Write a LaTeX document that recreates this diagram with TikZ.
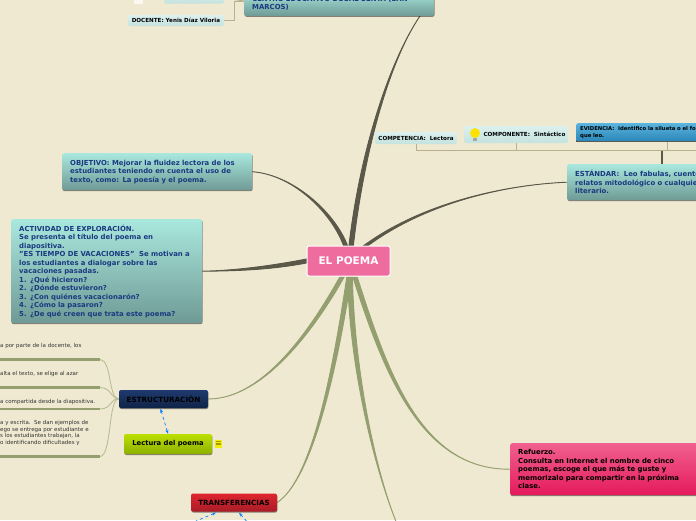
\documentclass[tikz,border=0pt]{standalone}
\usepackage{fontspec}
\usepackage{xcolor}
\usetikzlibrary{arrows.meta, calc, shadows}
\setmainfont{DejaVu Sans}
\definecolor{paper}{HTML}{F0E9D2}
\definecolor{darkbranch}{HTML}{5A5848}
\definecolor{greenbranch}{HTML}{939F6E}
\definecolor{tanline}{HTML}{B9B08F}
\definecolor{navytext}{HTML}{1A3A80}
\definecolor{teal1}{HTML}{A9E8DE}
\definecolor{teal2}{HTML}{6F9A95}
\definecolor{pale1}{HTML}{DDF1EE}
\definecolor{pale2}{HTML}{C3E2DE}
\definecolor{rosa}{HTML}{EE6C9E}
\definecolor{navy1}{HTML}{1F3A6E}
\definecolor{navy2}{HTML}{0E2347}
\definecolor{lima1}{HTML}{BCE000}
\definecolor{lima2}{HTML}{8DB000}
\definecolor{rojo1}{HTML}{E0252F}
\definecolor{rojo2}{HTML}{A81C26}
\definecolor{fucsia1}{HTML}{F0608F}
\definecolor{fucsia2}{HTML}{E51A5C}
\definecolor{azul1}{HTML}{5AB4DE}
\definecolor{azul2}{HTML}{2C86B8}
\pgfdeclarelayer{ground}
\pgfdeclarelayer{branches}
\pgfsetlayers{ground,branches,main}
\tikzset{
  boxshadow/.style={drop shadow={shadow xshift=0.4pt, shadow yshift=-1pt, opacity=.45, fill=black}},
  topicbox/.style={rounded corners=2pt, top color=teal1, bottom color=teal2, text=navytext, boxshadow,
    font=\bfseries\fontsize{6.9}{8.5}\selectfont, align=left, inner xsep=8pt, inner ysep=0pt, anchor=north west},
  smallbox/.style={rounded corners=2pt, top color=pale1, bottom color=pale2, font=\bfseries\fontsize{5.6}{7}\selectfont, inner sep=0pt},
  colorbox/.style={rounded corners=2pt, boxshadow, inner sep=0pt, font=\bfseries\fontsize{7.2}{8}\selectfont},
  plaintext/.style={font=\fontsize{5.5}{6.7}\selectfont, text=black!80, align=left, inner sep=0pt, anchor=west},
  darkbr/.style={fill=darkbranch, draw=darkbranch, line width=.9pt},
  greenbr/.style={fill=greenbranch, draw=greenbranch, line width=.9pt},
  thinline/.style={draw=tanline, line width=1pt},
  sideline/.style={draw=greenbranch, line width=2.2pt},
  sidecurve/.style={draw=greenbranch!60!paper, line width=.9pt},
  linkarrow/.style={draw=blue!50!cyan, dashed, line width=.7pt},
}
% rama que se adelgaza
\newcommand{\branch}[6]{\draw[#1] ($(#2)+(-#6,0)$) .. controls ($(#3)+(-#6,0)$) and (#4) .. (#5) .. controls (#4) and ($(#3)+(#6,0)$) .. ($(#2)+(#6,0)$) -- cycle;}
\begin{document}
\begin{tikzpicture}[x=1pt, y=-1pt]
    \useasboundingbox (0,0) rectangle (696,520);
    \begin{pgfonlayer}{ground}
        \fill[paper] (0,0) rectangle (696,520);
    \end{pgfonlayer}

    % raiz
    \node[rounded corners=2pt, fill=rosa, draw=white, line width=1pt, minimum width=83pt, minimum height=30pt, inner sep=0pt, text=white, font=\bfseries\fontsize{10.5}{12}\selectfont] (poema) at (348.5,261) {EL POEMA};

    % arriba
    \node[topicbox, text width=174pt, minimum height=25pt, anchor=south west] (centro) at (244,16) {CENTRO EDUCATIVO DOSAL SENTA (SAN\\MARCOS)};
    \node[smallbox, minimum width=60pt, minimum height=11pt] (grado) at (194,-2) {GRADO: 5° 2021};
    \node[smallbox, minimum width=96pt, minimum height=11pt] (docente) at (176,20.5) {DOCENTE: Yenis Díaz Viloria};
    \node[fill=white, opacity=.7, minimum width=9pt, minimum height=5pt, inner sep=0pt] (icono) at (138,1.5) {};

    \node[topicbox, text width=174pt, minimum height=37pt] (objetivo) at (62,153) {OBJETIVO: Mejorar la fluidez lectora de los\\estudiantes teniendo en cuenta el uso de\\texto, como: La poesía y el poema.};
    \node[topicbox, text width=175pt, minimum height=104pt] (actividad) at (11,219) {ACTIVIDAD DE EXPLORACIÓN.\\Se presenta el título del poema en\\diapositiva.\\"ES TIEMPO DE VACACIONES"\ \ Se motivan a\\los estudiantes a dialogar sobre las\\vacaciones pasadas.\\1. ¿Qué hicieron?\\2. ¿Dónde estuvieron?\\3. ¿Con quiénes vacacionarón?\\4. ¿Cómo la pasaron?\\5. ¿De qué creen que trata este poema?};
    \node[topicbox, text width=170pt, minimum height=36pt] (estandar) at (567,164) {ESTÁNDAR:\ \ Leo fabulas, cuentos,\\relatos mitodológico o cualquier texto\\literario.};

    % derecha arriba
    \node[smallbox, minimum width=82pt, minimum height=12pt] (competencia) at (416,138) {COMPETENCIA:\ \ Lectora};
    \node[smallbox, minimum width=104pt, minimum height=17pt, text depth=0pt, inner xsep=0pt] (componente) at (516,134.5) {\hspace{17pt}COMPONENTE:\ \ Sintáctico};
    \node[rounded corners=2pt, top color=azul1, bottom color=azul2, minimum height=18pt, text width=210pt, inner xsep=4pt, inner ysep=0pt, anchor=north west, align=left, font=\bfseries\fontsize{5.3}{6.8}\selectfont] (evidencia) at (576,123) {EVIDENCIA:\ \ Identifico la silueta o el formato de los textos\\que leo.};
    \fill[yellow!85!orange] (475,133) circle (5pt);
    \fill[black!35] (473,137.5) rectangle (477,141);
    \coordinate (bracket) at (662,150.5);

    % abajo
    \node[colorbox, top color=navy1, bottom color=navy2, minimum width=89pt, minimum height=18pt] (estructura) at (163.5,399) {ESTRUCTURACIÓN};
    \node[colorbox, top color=lima1, bottom color=lima2, minimum width=88pt, minimum height=20pt, font=\bfseries\fontsize{6.8}{8}\selectfont] (lectura) at (168,444) {Lectura del poema};
    \node[fill=yellow!80!lime, minimum width=7pt, minimum height=8pt, inner sep=0pt, font=\bfseries\fontsize{7}{7}\selectfont] (lista) at (218.5,444) {$\equiv$};
    \node[colorbox, top color=rojo1, bottom color=rojo2, minimum width=86pt, minimum height=18pt, font=\bfseries\fontsize{7.1}{8}\selectfont] (transfer) at (234,502.5) {TRANSFERENCIAS};
    \node[topicbox, top color=fucsia1, bottom color=fucsia2, text=black, text width=172pt, minimum height=52pt] (refuerzo) at (510,443) {Refuerzo.\\Consulta en Internet el nombre de cinco\\poemas, escoge el que más te guste y\\memorizalo para compartir en la próxima\\clase.};

    % textos de la izquierda
    \node[plaintext] (uno) at (0,346) {a por parte de la docente, los};
    \node[plaintext] (dos) at (0,374) {alta el texto, se elige al azar};
    \node[plaintext] (tres) at (0,402) {a compartida desde la diapositiva.};
    \node[plaintext] (cuatro) at (0,433) {a y escrita.\ \ Se dan ejemplos de\\ego se entrega por estudiante e\\s los estudiantes trabajan, la\\o identificando dificultades y};
    \coordinate (finuno) at (100,359.5);
    \coordinate (findos) at (100,387.5);
    \coordinate (fintres) at (100,409);
    \coordinate (fincuatro) at (100,456.5);
    \coordinate (fincentro) at (420,16);
    \coordinate (abajo) at (397,524);
    \coordinate (linka) at (196,521);
    \coordinate (linkb) at (250,525);

    \begin{pgfonlayer}{branches}
        % ramas oscuras
        \branch{darkbr}{346,247}{335,215}{295,175}{objetivo.east}{2}
        \branch{darkbr}{351,247}{362,150}{390,60}{fincentro}{2.2}
        \branch{darkbr}{364,247}{420,205}{500,185}{estandar.west}{2.2}
        \draw[darkbr] ($(poema.west)+(0,-2)$) .. controls (270,266) and (235,270.5) .. (actividad.east) .. controls (235,271) and (270,270) .. ($(poema.west)+(0,2)$) -- cycle;
        % ramas verdes
        \branch{greenbr}{342,277}{315,325}{265,399}{estructura.east}{2.2}
        \branch{greenbr}{349,277}{335,370}{312,480}{transfer.east}{2.2}
        \branch{greenbr}{350,277}{352,370}{375,470}{abajo}{2.4}
        \branch{greenbr}{355,277}{385,370}{420,470}{refuerzo.west}{2.2}
        % corchetes
        \draw[thinline] (docente.east) -| (234,1) -- (centro.west |- 0,1);
        \draw[thinline] (grado.east) -- (244,1);
        \draw[thinline] (competencia.south) |- (696,150.5);
        \draw[thinline] (componente.south) -- (516,150.5);
        \draw[thinline] (667,142) -- (667,150.5);
        \draw[darkbranch, line width=1.1pt] (bracket) -- (estandar.north -| bracket);
        \draw[darkbranch, line width=2pt] (evidencia.south west) -- (evidencia.south east);
        % lineas laterales
        \draw[sideline] (0,359.5) -- (finuno);
        \draw[sideline] (0,387.5) -- (findos);
        \draw[sideline] (0,409) -- (fintres);
        \draw[sideline] (0,456.5) -- (fincuatro);
        \draw[sidecurve] (estructura.west) .. controls (108,398) and (112,360) .. (finuno);
        \draw[sidecurve] (estructura.west) .. controls (110,398) and (112,388) .. (findos);
        \draw[sidecurve] (estructura.west) .. controls (110,398) and (112,409) .. (fintres);
        \draw[sidecurve] (estructura.west) .. controls (108,398) and (112,456) .. (fincuatro);
    \end{pgfonlayer}

    % enlaces
    \draw[linkarrow, {Stealth[length=4pt]}-{Stealth[length=4pt]}] (estructura.south) ++(-3,.5) -- (lectura.north);
    \draw[linkarrow, {Stealth[length=4pt]}-] ($(transfer.south)+(-18,1)$) -- (linka);
    \draw[linkarrow, {Stealth[length=4pt]}-] ($(transfer.south)+(5,1)$) -- (linkb);
\end{tikzpicture}
\end{document}
